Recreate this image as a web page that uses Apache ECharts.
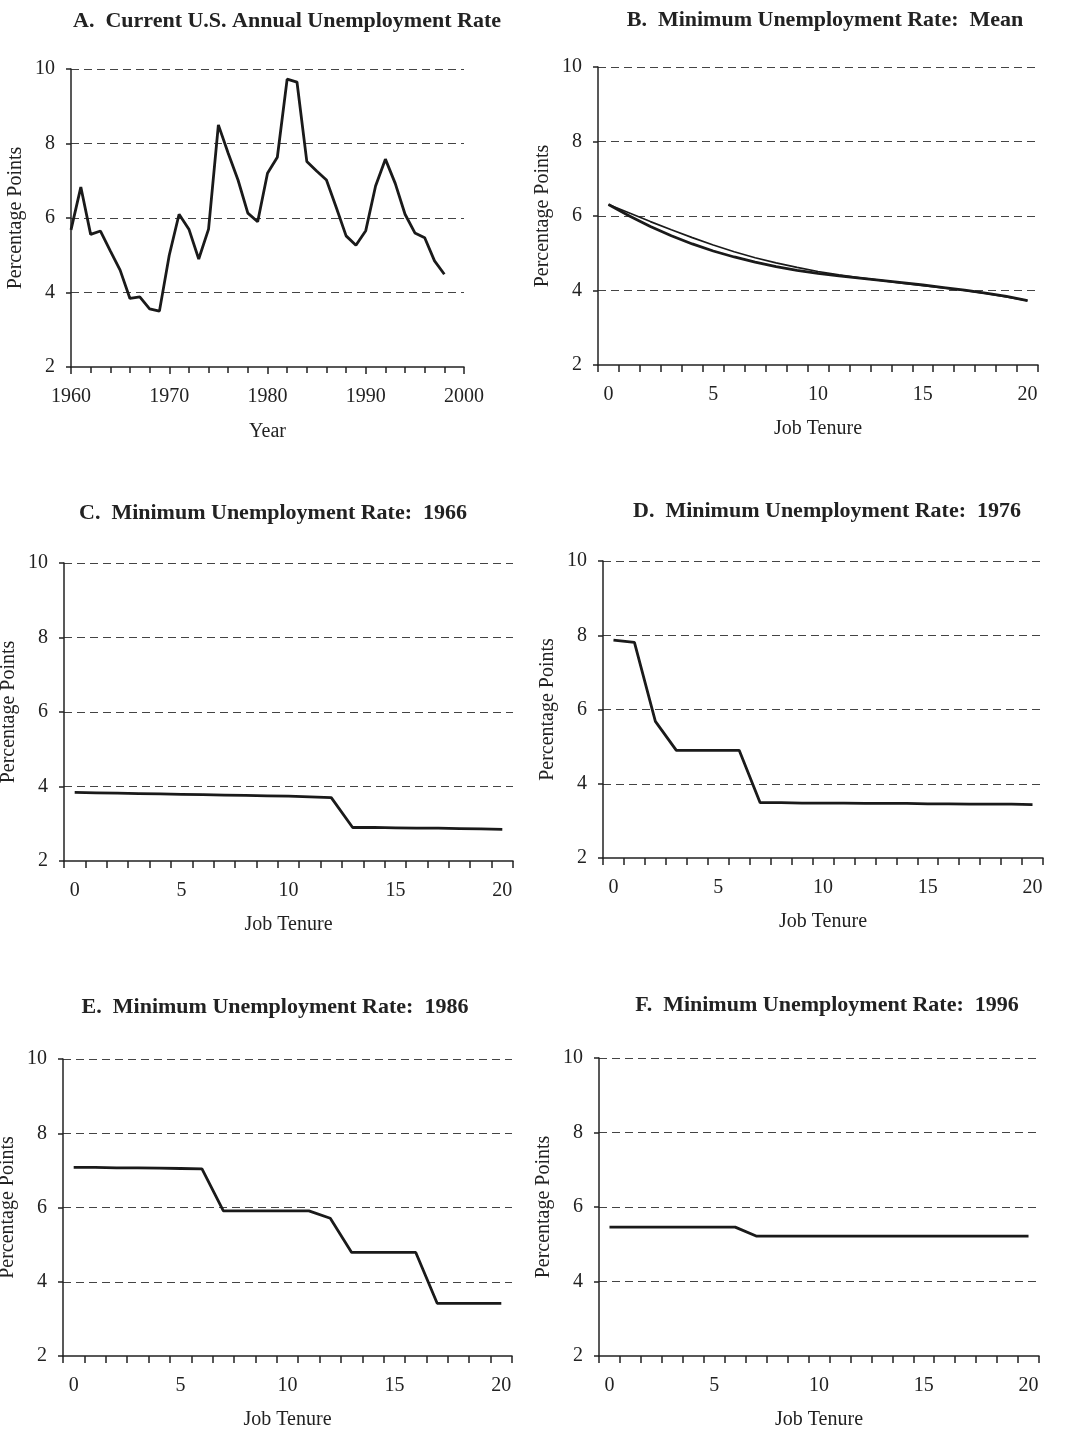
<!DOCTYPE html>
<html>
<head>
<meta charset="utf-8">
<script src="https://cdn.jsdelivr.net/npm/echarts@6/dist/echarts.min.js"></script>
<style>
  html, body { margin: 0; padding: 0; background: #fff; }
  #main { width: 1071px; height: 1432px; }
</style>
</head>
<body>
<div id="main"></div>
<script>
// panel A: annual unemployment rate
var years = [1960,1961,1962,1963,1964,1965,1966,1967,1968,1969,
             1970,1971,1972,1973,1974,1975,1976,1977,1978,1979,
             1980,1981,1982,1983,1984,1985,1986,1987,1988,1989,
             1990,1991,1992,1993,1994,1995,1996,1997,1998];
var unemployment = [5.68,6.83,5.56,5.65,5.12,4.6,3.84,3.88,3.56,3.5,
                    5.0,6.1,5.7,4.9,5.7,8.5,7.74,7.02,6.13,5.9,
                    7.2,7.63,9.73,9.65,7.52,7.26,7.02,6.28,5.52,5.27,
                    5.66,6.86,7.58,6.93,6.1,5.6,5.47,4.85,4.49];

// job tenure panels
var tenure = ['0','1','2','3','4','5','6','7','8','9','10',
              '11','12','13','14','15','16','17','18','19','20'];
var meanA = [6.31,6.08,5.85,5.63,5.42,5.22,5.04,4.88,4.74,4.62,4.51,
             4.42,4.34,4.27,4.2,4.13,4.07,4.0,3.92,3.83,3.73];
var meanB = [6.31,6.0,5.72,5.47,5.25,5.06,4.9,4.76,4.64,4.54,4.46,
             4.39,4.33,4.27,4.21,4.15,4.08,4.01,3.93,3.84,3.73];
var rate1966 = [3.84,3.83,3.82,3.81,3.8,3.79,3.78,3.77,3.76,3.75,3.74,
                3.72,3.7,2.9,2.9,2.89,2.88,2.88,2.87,2.86,2.85];
var rate1976 = [7.87,7.81,5.68,4.9,4.9,4.9,4.9,3.49,3.49,3.48,3.48,
                3.48,3.47,3.47,3.47,3.46,3.46,3.45,3.45,3.45,3.44];
var rate1986 = [7.08,7.08,7.07,7.07,7.06,7.05,7.04,5.91,5.91,5.91,5.91,
                5.91,5.71,4.79,4.79,4.79,4.79,3.42,3.42,3.42,3.42];
var rate1996 = [5.46,5.46,5.46,5.46,5.46,5.46,5.46,5.22,5.22,5.22,5.22,
                5.22,5.22,5.22,5.22,5.22,5.22,5.22,5.22,5.22,5.22];

var titles = [
  'A.  Current U.S. Annual Unemployment Rate',
  'B.  Minimum Unemployment Rate:  Mean',
  'C.  Minimum Unemployment Rate:  1966',
  'D.  Minimum Unemployment Rate:  1976',
  'E.  Minimum Unemployment Rate:  1986',
  'F.  Minimum Unemployment Rate:  1996'
];

var font = '"Liberation Serif", "Times New Roman", serif';
var ink = '#222';

// plot areas
var grids = [
  { left: 71,  top: 69,   width: 393, height: 298 },
  { left: 598, top: 67,   width: 440, height: 298 },
  { left: 64,  top: 563,  width: 449, height: 298 },
  { left: 603, top: 561,  width: 440, height: 297 },
  { left: 63,  top: 1059, width: 449, height: 297 },
  { left: 599, top: 1058, width: 440, height: 298 }
];
var titlePos = [[282, 5], [820, 4], [268, 497], [822, 495], [270, 991], [822, 989]];

var chart = echarts.init(document.getElementById('main'));

var option = {
  backgroundColor: '#fff',
  animation: false,
  title: [],
  grid: [],
  xAxis: [],
  yAxis: [],
  series: []
};

grids.forEach(function (g, i) {
  option.title.push({
    text: titles[i],
    left: titlePos[i][0],
    top: titlePos[i][1],
    textAlign: 'center',
    textStyle: { fontFamily: font, fontWeight: 'bold', fontSize: 22, color: ink }
  });
  option.grid.push({
    left: g.left, top: g.top, width: g.width, height: g.height,
    containLabel: false, outerBoundsMode: 'none'
  });
  option.yAxis.push({
    type: 'value',
    gridIndex: i,
    min: 2, max: 10, interval: 2,
    name: 'Percentage Points',
    nameLocation: 'middle',
    nameGap: 45,
    nameTextStyle: { fontFamily: font, fontSize: 20, color: ink },
    axisLine: { show: true, lineStyle: { color: ink, width: 1.5 } },
    axisTick: { show: true, length: 5, lineStyle: { color: ink, width: 1.5 } },
    axisLabel: { fontFamily: font, fontSize: 20, color: ink, margin: 16 },
    splitLine: { show: true, showMinLine: false, lineStyle: { color: '#444', width: 1.2, type: [8, 5] } },
    z: 1
  });
});

// panel A x axis: years on a value scale
option.xAxis.push({
  type: 'value',
  gridIndex: 0,
  min: 1960, max: 2000, interval: 10,
  name: 'Year',
  nameLocation: 'middle',
  nameGap: 55,
  nameTextStyle: { fontFamily: font, fontSize: 20, color: ink },
  axisLine: { show: true, onZero: false, lineStyle: { color: ink, width: 1.5 } },
  axisTick: { show: true, length: 7, lineStyle: { color: ink, width: 1.5 } },
  minorTick: { show: true, splitNumber: 5, length: 6, lineStyle: { color: ink, width: 1.5 } },
  axisLabel: {
    fontFamily: font, fontSize: 20, color: ink, margin: 20,
    formatter: function (v) { return String(v); }
  },
  splitLine: { show: false },
  z: 3
});

// panels B-F: job tenure categories
for (var k = 1; k < 6; k++) {
  option.xAxis.push({
    type: 'category',
    gridIndex: k,
    data: tenure,
    boundaryGap: true,
    name: 'Job Tenure',
    nameLocation: 'middle',
    nameGap: 54,
    nameTextStyle: { fontFamily: font, fontSize: 20, color: ink },
    axisLine: { show: true, onZero: false, lineStyle: { color: ink, width: 1.5 } },
    axisTick: { show: true, interval: 0, length: 7, lineStyle: { color: ink, width: 1.5 } },
    axisLabel: { interval: 4, fontFamily: font, fontSize: 20, color: ink, margin: 20 },
    splitLine: { show: false },
    z: 3
  });
}

function line(idx, data, width) {
  return {
    type: 'line',
    xAxisIndex: idx,
    yAxisIndex: idx,
    data: data,
    showSymbol: false,
    symbol: 'none',
    lineStyle: { color: '#1a1a1a', width: width },
    z: 5
  };
}

option.series.push(line(0, years.map(function (y, i) { return [y, unemployment[i]]; }), 2.8));
option.series.push(line(1, meanA, 1.7));
option.series.push(line(1, meanB, 2.8));
option.series.push(line(2, rate1966, 2.8));
option.series.push(line(3, rate1976, 2.8));
option.series.push(line(4, rate1986, 2.8));
option.series.push(line(5, rate1996, 2.8));

chart.setOption(option);
</script>
</body>
</html>
